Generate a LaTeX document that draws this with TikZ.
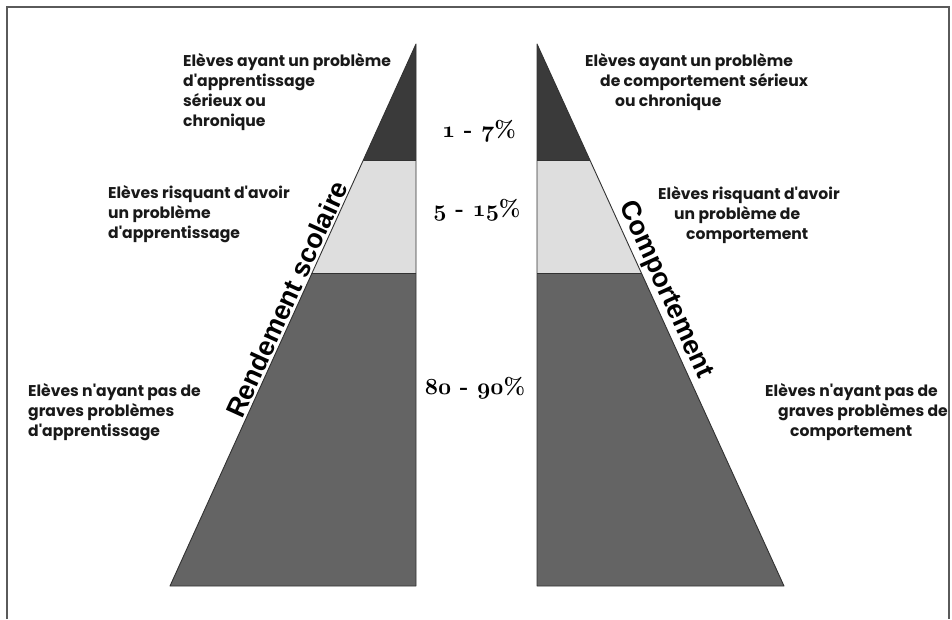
\documentclass[tikz,border=0pt]{standalone}
\usepackage{fontspec}
% heavy geometric sans for the group descriptions
\IfFontExistsTF{Poppins Bold}
  {\newfontfamily\lblfont{Poppins Bold}}
  {\IfFontExistsTF{Poppins SemiBold}
     {\newfontfamily\lblfont{Poppins SemiBold}}
     {\newfontfamily\lblfont{Poppins}[FakeBold=3]}}
\newfontfamily\axisfont{Liberation Sans}
\usetikzlibrary{calc}

% let the bold math italic (old-style figures) scale to any size
\DeclareFontShape{OML}{cmm}{b}{it}{<-> cmmib10}{}

\definecolor{frameline}{RGB}{90,90,90}
\definecolor{banddark}{RGB}{58,58,58}
\definecolor{bandlight}{RGB}{222,222,222}
\definecolor{bandmid}{RGB}{100,100,100}
\definecolor{edgeline}{RGB}{50,50,50}

% old-style figures taken from the bold math italic font
\newcommand{\osf}[1]{{\boldmath$\mathnormal{#1}$}}

\tikzset{
  band/.style={draw=edgeline, line width=0.9pt, line join=round},
  grouplabel/.style={font=\lblfont\fontsize{15.6}{20}\selectfont, align=left,
                     anchor=north west, inner sep=0pt, text=black!90},
  pct/.style={font=\bfseries\fontsize{23}{23}\selectfont, inner sep=0pt},
  axislabel/.style={font=\axisfont\bfseries\fontsize{27}{27}\selectfont, sloped,
                    above, inner sep=2pt},
}

\begin{document}
\begin{tikzpicture}[x=1pt, y=-1pt]
  \useasboundingbox (0,0) rectangle (952,619);

  % outer frame (open at the bottom)
  \draw[frameline, line width=1.4pt] (7,619) -- (7,7) -- (949,7) -- (949,619);

  % ---- left pyramid: academic achievement ----
  \coordinate (apexL) at (416,44);
  \coordinate (baseL) at (170,586);
  \coordinate (cornerL) at (416,586);
  \coordinate (l1) at ($(apexL)!0.214!(baseL)$);
  \coordinate (l2) at ($(apexL)!0.4225!(baseL)$);
  \fill[bandmid] (l2) -- (baseL) -- (cornerL) -- (416,0 |- l2) -- cycle;
  \fill[bandlight] (l1) -- (l2) -- (416,0 |- l2) -- (416,0 |- l1) -- cycle;
  \fill[banddark] (apexL) -- (l1) -- (416,0 |- l1) -- cycle;
  \draw[band] (l1) -- (416,0 |- l1) (l2) -- (416,0 |- l2);
  \draw[band] (apexL) -- (baseL) -- (cornerL) -- cycle;

  % ---- right pyramid: behaviour ----
  \coordinate (apexR) at (537,44);
  \coordinate (baseR) at (784,586);
  \coordinate (cornerR) at (537,586);
  \coordinate (r1) at ($(apexR)!0.214!(baseR)$);
  \coordinate (r2) at ($(apexR)!0.4225!(baseR)$);
  \fill[bandmid] (r2) -- (baseR) -- (cornerR) -- (537,0 |- r2) -- cycle;
  \fill[bandlight] (r1) -- (r2) -- (537,0 |- r2) -- (537,0 |- r1) -- cycle;
  \fill[banddark] (apexR) -- (r1) -- (537,0 |- r1) -- cycle;
  \draw[band] (r1) -- (537,0 |- r1) (r2) -- (537,0 |- r2);
  \draw[band] (apexR) -- (baseR) -- (cornerR) -- cycle;

  % axis titles along the slanted sides
  \path (baseL) -- (apexL) node[axislabel, pos=0.52] (axisL) {Rendement scolaire};
  \path (apexR) -- (baseR) node[axislabel, pos=0.465] (axisR) {Comportement};

  % percentages between the pyramids
  \node[pct] (p1) at (479,131) {\osf{1} - \osf{7}\%};
  \node[pct] (p2) at (477,210) {\osf{5} - \osf{15}\%};
  \node[pct] (p3) at (475,388) {\osf{80} - \osf{90}\%};

  % group descriptions, left
  \node[grouplabel] (lt) at (183,53)
    {Elèves ayant un problème\\d'apprentissage\\sérieux ou\\chronique};
  \node[grouplabel] (lm) at (108,185)
    {Elèves risquant d'avoir\\un problème\\d'apprentissage};
  \node[grouplabel] (lb) at (28,383)
    {Elèves n'ayant pas de\\graves problèmes\\d'apprentissage};

  % group descriptions, right
  \node[grouplabel] (rt) at (585,53)
    {Elèves ayant un problème\\\hspace*{15pt}de comportement sérieux\\\hspace*{30pt}ou chronique};
  \node[grouplabel] (rm) at (658,186)
    {Elèves risquant d'avoir\\\hspace*{16pt}un problème de\\\hspace*{28pt}comportement};
  \node[grouplabel] (rb) at (765,383)
    {Elèves n'ayant pas de\\\hspace*{13pt}graves problèmes de\\\hspace*{25pt}comportement};
\end{tikzpicture}
\end{document}
